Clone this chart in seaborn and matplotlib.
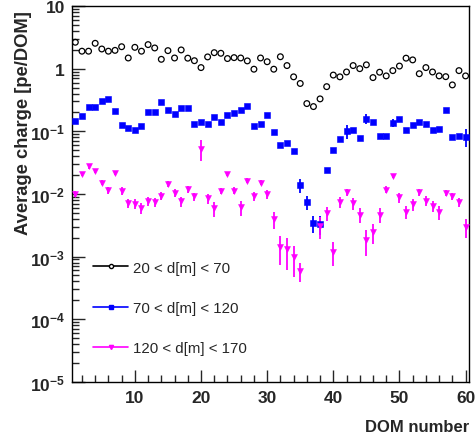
import numpy as np
import pandas as pd
import matplotlib
matplotlib.use("Agg")
import matplotlib.pyplot as plt
from matplotlib.lines import Line2D
from matplotlib.ticker import MultipleLocator, LogLocator, FixedLocator, FixedFormatter, NullFormatter
import seaborn as sns

# =====================================================
# Data
# =====================================================

dom = list(range(1, 61))

near_charge = [2.64, 1.90, 1.90, 2.54, 2.06, 1.90, 1.96, 2.24, 1.48, 2.19,
               1.90, 2.42, 2.14, 1.41, 1.94, 1.48, 1.99, 1.47, 1.34, 1.04,
               1.54, 1.80, 1.76, 1.45, 1.50, 1.48, 1.33, 0.98, 1.48, 1.29,
               0.98, 1.55, 1.12, 0.74, 0.58, 0.277, 0.248, 0.329, 0.516, 0.79,
               0.74, 0.885, 1.12, 1.00, 1.15, 0.72, 0.877, 0.766, 0.93, 1.10,
               1.47, 1.38, 0.83, 1.04, 0.885, 0.766, 0.745, 0.55, 0.93, 0.766]

mid_charge = [0.145, 0.178, 0.245, 0.245, 0.305, 0.333, 0.214, 0.125, 0.113, 0.103,
              0.123, 0.206, 0.206, 0.294, 0.217, 0.190, 0.233, 0.233, 0.133, 0.141,
              0.130, 0.168, 0.140, 0.183, 0.195, 0.217, 0.254, 0.122, 0.133, 0.185,
              0.099, 0.060, 0.066, 0.049, 0.014, 0.0074, 0.0034, 0.0033, 0.024, 0.050,
              0.074, 0.101, 0.106, 0.0785, 0.160, 0.140, 0.0845, 0.0836, 0.136, 0.156,
              0.105, 0.125, 0.141, 0.131, 0.105, 0.110, 0.219, 0.082, 0.0845, 0.082]

mid_err = [0.004, 0.004, 0.005, 0.005, 0.006, 0.006, 0.005, 0.004, 0.004, 0.004,
           0.004, 0.005, 0.005, 0.006, 0.005, 0.005, 0.005, 0.005, 0.004, 0.010,
           0.004, 0.005, 0.010, 0.005, 0.005, 0.005, 0.006, 0.004, 0.004, 0.005,
           0.004, 0.003, 0.003, 0.003, 0.0036, 0.0018, 0.0010, 0.0011, 0.002, 0.003,
           0.004, 0.025, 0.005, 0.004, 0.030, 0.012, 0.004, 0.004, 0.020, 0.005,
           0.004, 0.004, 0.005, 0.005, 0.004, 0.004, 0.006, 0.004, 0.004, 0.025]

far_charge = [0.0100, 0.0209, 0.0274, 0.0233, 0.0152, 0.0116, 0.0217, 0.0112, 0.00713, 0.00695,
              0.0060, 0.00767, 0.0074, 0.00942, 0.0143, 0.0105, 0.00757, 0.0119, 0.0091, 0.0524,
              0.00845, 0.00585, 0.0113, 0.0209, 0.0113, 0.00615, 0.0162, 0.00923, 0.0152, 0.00993,
              0.00396, 0.00142, 0.0013, 0.00098, 0.000594, np.nan, np.nan, 0.00313, 0.00494, 0.00120,
              0.0074, 0.0107, 0.00713, 0.00465, 0.00181, 0.00246, 0.00469, 0.0117, 0.0192, 0.00877,
              0.00513, 0.00678, 0.0107, 0.00785, 0.00653, 0.00513, 0.0103, 0.00923, 0.0073, 0.00295]

far_err = [0.0010, 0.0015, 0.0020, 0.0018, 0.0015, 0.0015, 0.0015, 0.0015, 0.0012, 0.0012,
           0.0012, 0.0012, 0.0012, 0.0013, 0.0015, 0.0015, 0.0013, 0.0015, 0.0013, 0.0190,
           0.0015, 0.0015, 0.0013, 0.0015, 0.0015, 0.0017, 0.0015, 0.0015, 0.0015, 0.0015,
           0.0012, 0.0007, 0.0007, 0.0005, 0.0002, np.nan, np.nan, 0.0012, 0.0013, 0.0005,
           0.0015, 0.0015, 0.0015, 0.0012, 0.0008, 0.0009, 0.0012, 0.0015, 0.0015, 0.0015,
           0.0012, 0.0015, 0.0015, 0.0015, 0.0013, 0.0013, 0.0012, 0.0012, 0.0012, 0.0010]

labels = ["20 < d[m] < 70", "70 < d[m] < 120", "120 < d[m] < 170"]

ytick_vals = [1e-5, 1e-4, 1e-3, 1e-2, 1e-1, 1, 10]
ytick_text = [r"$10^{-5}$", r"$10^{-4}$", r"$10^{-3}$", r"$10^{-2}$", r"$10^{-1}$", "1", "10"]

# =====================================================
# Style
# =====================================================

sns.set_style("ticks")
plt.rcParams["font.family"] = ["Liberation Sans", "DejaVu Sans"]
plt.rcParams["font.weight"] = "bold"
plt.rcParams["mathtext.fontset"] = "custom"
plt.rcParams["mathtext.rm"] = "Liberation Sans:bold"
plt.rcParams["mathtext.bf"] = "Liberation Sans:bold"
plt.rcParams["mathtext.default"] = "rm"

fig = plt.figure(figsize=(4.77, 4.39), dpi=100)
ax = fig.add_axes([0.151, 0.128, 0.832, 0.856])

df_near = pd.DataFrame({"DOM": dom, "charge": near_charge})
df_mid = pd.DataFrame({"DOM": dom, "charge": mid_charge, "err": mid_err})
df_far = pd.DataFrame({"DOM": dom, "charge": far_charge, "err": far_err}).dropna()

# error bars first, markers on top
ax.errorbar(df_mid["DOM"], df_mid["charge"], yerr=df_mid["err"], fmt="none",
            ecolor="blue", elinewidth=1.3, capsize=0, zorder=2)
ax.errorbar(df_far["DOM"], df_far["charge"], yerr=df_far["err"], fmt="none",
            ecolor="magenta", elinewidth=1.3, capsize=0, zorder=2)

sns.scatterplot(data=df_near, x="DOM", y="charge", ax=ax, marker="o", s=17,
                facecolor="none", edgecolor="black", linewidth=0.9, zorder=3)
sns.scatterplot(data=df_mid, x="DOM", y="charge", ax=ax, marker="s", s=15,
                color="blue", edgecolor="blue", linewidth=0.4, zorder=3)
sns.scatterplot(data=df_far, x="DOM", y="charge", ax=ax, marker="v", s=18,
                color="magenta", edgecolor="magenta", linewidth=0.4, zorder=3)

# =====================================================
# Axes
# =====================================================

ax.set_yscale("log")
ax.set_ylim(1e-5, 10)
ax.set_xlim(0.5, 60.5)

ax.xaxis.set_major_locator(MultipleLocator(10))
ax.xaxis.set_minor_locator(MultipleLocator(2))
ax.yaxis.set_major_locator(FixedLocator(ytick_vals))
ax.yaxis.set_major_formatter(FixedFormatter(ytick_text))
ax.yaxis.set_minor_locator(LogLocator(base=10, subs=np.arange(2, 10)))
ax.yaxis.set_minor_formatter(NullFormatter())

ax.tick_params(axis="both", which="major", direction="in", length=9, width=1,
               labelsize=12.5, top=False, right=False)
ax.tick_params(axis="both", which="minor", direction="in", length=5, width=1,
               top=False, right=False)
ax.tick_params(axis="y", which="major", pad=5)
ax.tick_params(axis="x", which="major", pad=6)
for lab in ax.get_xticklabels() + ax.get_yticklabels():
    lab.set_fontweight("bold")

for sp in ax.spines.values():
    sp.set_visible(True)
    sp.set_linewidth(1.0)
    sp.set_color("black")

ax.set_xlabel("DOM number", fontsize=12, fontweight="bold", loc="right")
ax.set_ylabel("Average charge [pe/DOM]", fontsize=13.2, fontweight="bold", loc="top")
ax.xaxis.set_label_coords(1.0, -0.1)
ax.yaxis.set_label_coords(-0.1, 0.99)

# =====================================================
# Legend
# =====================================================

handles = [
    Line2D([0], [0], color="black", lw=1.2, marker="o", markersize=3,
           markerfacecolor="white", markeredgecolor="black"),
    Line2D([0], [0], color="blue", lw=1.2, marker="s", markersize=3,
           markerfacecolor="blue", markeredgecolor="blue"),
    Line2D([0], [0], color="magenta", lw=1.2, marker="v", markersize=3,
           markerfacecolor="magenta", markeredgecolor="magenta"),
]
leg = ax.legend(handles, labels, loc="lower left", bbox_to_anchor=(0.02, 0.035),
                frameon=False, fontsize=10.8, handlelength=2.3, handletextpad=0.35,
                labelspacing=1.75)
for t in leg.get_texts():
    t.set_fontweight("normal")

fig.savefig("out.png", dpi=100)
plt.close(fig)
